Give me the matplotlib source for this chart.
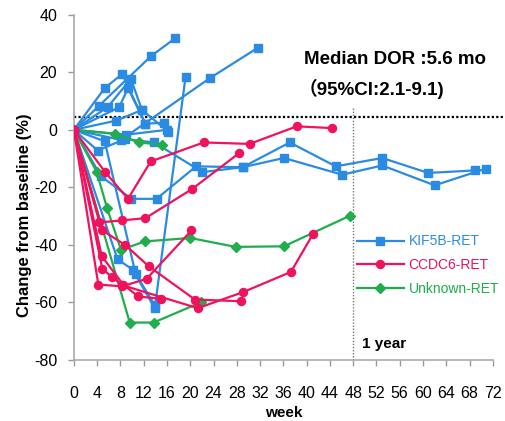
import matplotlib
matplotlib.use("Agg")
import matplotlib.pyplot as plt

plt.rcParams['font.family'] = ['Liberation Sans', 'DejaVu Sans']
plt.rcParams['axes.unicode_minus'] = False

# ---- data (week, % change from baseline) ----
kif5b_weeks = [
    [0, 4.3, 13.3, 17.4],
    [0, 5.3, 8.3, 12.3, 15.5],
    [0, 5.8, 9.8, 11.7, 16.2],
    [0, 7.8, 9.3, 12.3],
    [0, 7.3, 11.7],
    [0, 8.1, 23.4, 31.6],
    [0, 4.7, 9.9, 14.2, 21.0, 29.0, 37.1, 45.0, 53.0, 60.9, 69.0],
    [0, 4.1, 8.8, 13.8, 22.1, 29.0, 36.1, 46.1, 53.0, 62.0, 70.8],
    [0, 9.0, 16.0],
    [0, 7.5, 10.1, 13.9, 19.2],
    [0, 5.3, 10.6, 13.9],
]
kif5b_vals = [
    [0, 8.3, 25.7, 31.8],
    [0, 14.5, 19.4, 2.1, 2.5],
    [0, 7.9, 17.7, 6.9, -0.6],
    [0, 7.9, 14.5, 2.1],
    [0, 3.2, 6.9],
    [0, -3.5, 18.0, 28.5],
    [0, -16.2, -24.0, -24.0, -12.7, -13.0, -4.4, -12.7, -9.8, -15.0, -14.1],
    [0, -7.2, -3.2, -4.4, -14.7, -13.0, -9.8, -15.6, -12.4, -19.3, -13.5],
    [0, -1.7, 0.0],
    [0, -45.0, -48.6, -62.0, 18.5],
    [0, -4.0, -50.0, -61.0],
]
ccdc6_weeks = [
    [0, 5.3, 9.3, 13.2, 22.3, 30.2, 38.3, 44.4],
    [0, 4.4, 8.2, 12.3, 20.3, 28.4],
    [0, 4.9, 8.8, 12.9, 20.8, 28.8],
    [0, 4.2, 8.3, 12.5, 20.2],
    [0, 4.8, 8.5, 11.0, 15.0],
    [0, 4.9, 6.6, 8.3, 21.3, 29.1, 37.3, 41.1],
]
ccdc6_vals = [
    [0, -14.5, -24.0, -11.0, -4.4, -4.9, 1.2, 0.6],
    [0, -32.2, -31.5, -30.7, -20.6, -8.1],
    [0, -35.0, -40.0, -47.5, -59.0, -59.6],
    [0, -53.8, -54.4, -51.8, -35.0],
    [0, -44.0, -53.8, -57.9, -58.8],
    [0, -48.4, -51.2, -54.0, -62.0, -56.4, -49.4, -36.2],
]
unknown_weeks = [
    [0, 7.0, 11.2, 15.1],
    [0, 3.9, 5.7, 8.1, 12.2, 20.0, 27.8, 36.1, 47.4],
    [0, 9.6, 13.7, 21.8],
]
unknown_vals = [
    [0, -1.4, -4.4, -5.2],
    [0, -14.5, -27.2, -41.7, -38.8, -37.6, -40.7, -40.5, -29.9],
    [0, -67.0, -67.0, -60.0],
]
series_names = ['KIF5B-RET', 'CCDC6-RET', 'Unknown-RET']
x_ticks = list(range(0, 73, 4))
y_ticks = list(range(-80, 41, 20))
threshold = 4.6
one_year = 48

BLUE = '#2b8be3'
RED = '#f0125c'
GREEN = '#1fae4b'

fig = plt.figure(figsize=(5.06, 4.21), dpi=100)
ax = fig.add_axes([0.146, 0.145, 0.828, 0.82])

handles = {}
for ws, vs in zip(kif5b_weeks, kif5b_vals):
    h, = ax.plot(ws, vs, color=BLUE, lw=1.6, marker='s', ms=5.8, zorder=3)
    handles['KIF5B-RET'] = h
for ws, vs in zip(unknown_weeks, unknown_vals):
    h, = ax.plot(ws, vs, color=GREEN, lw=1.6, marker='D', ms=5.2, zorder=4)
    handles['Unknown-RET'] = h
for ws, vs in zip(ccdc6_weeks, ccdc6_vals):
    h, = ax.plot(ws, vs, color=RED, lw=1.6, marker='o', ms=5.8, zorder=5)
    handles['CCDC6-RET'] = h

ax.set_xlim(0, 72)
ax.set_ylim(-80, 40)
ax.set_xticks(x_ticks)
ax.set_yticks(y_ticks)
ax.tick_params(axis='both', colors='#999999', labelcolor='black', labelsize=11.5, length=4, width=1)
ax.tick_params(axis='x', pad=15)
ax.tick_params(axis='y', pad=8)
for s in ['top', 'right']:
    ax.spines[s].set_visible(False)
for s in ['left', 'bottom']:
    ax.spines[s].set_color('#aaaaaa')
    ax.spines[s].set_linewidth(1.2)

# reference lines
ax.plot([0, 74.5], [threshold, threshold], ls=(0, (1, 1)), color='black', lw=1.6, clip_on=False, zorder=2)
ax.plot([one_year, one_year], [-80, 8], ls=(0, (1, 1.2)), color='#777777', lw=1.0, zorder=1)

ax.text(49.5, -76, '1 year', fontsize=11, fontweight='bold')
ax.text(39.5, 24.5, 'Median DOR :5.6 mo', fontsize=13.5, fontweight='bold',
        family=['Liberation Sans', 'Noto Sans CJK JP'], va='center')
ax.text(38.6, 14.3, '（95%CI:2.1-9.1)', fontsize=13.5, fontweight='bold',
        family=['Liberation Sans', 'Noto Sans CJK JP'], va='center')

ax.set_xlabel('week', fontsize=11, fontweight='bold', labelpad=3)
ax.set_ylabel('Change from baseline (%)', fontsize=12, fontweight='bold', va='center')
ax.yaxis.set_label_coords(-0.117, 0.42)

leg = ax.legend([handles[n] for n in series_names], series_names, loc='upper left',
                bbox_to_anchor=(0.645, 0.40), frameon=False, fontsize=10,
                handlelength=3.4, labelspacing=0.7, handletextpad=0.35)
for t, c in zip(leg.get_texts(), [BLUE, RED, GREEN]):
    t.set_color(c)

fig.savefig('out.png', dpi=100)
